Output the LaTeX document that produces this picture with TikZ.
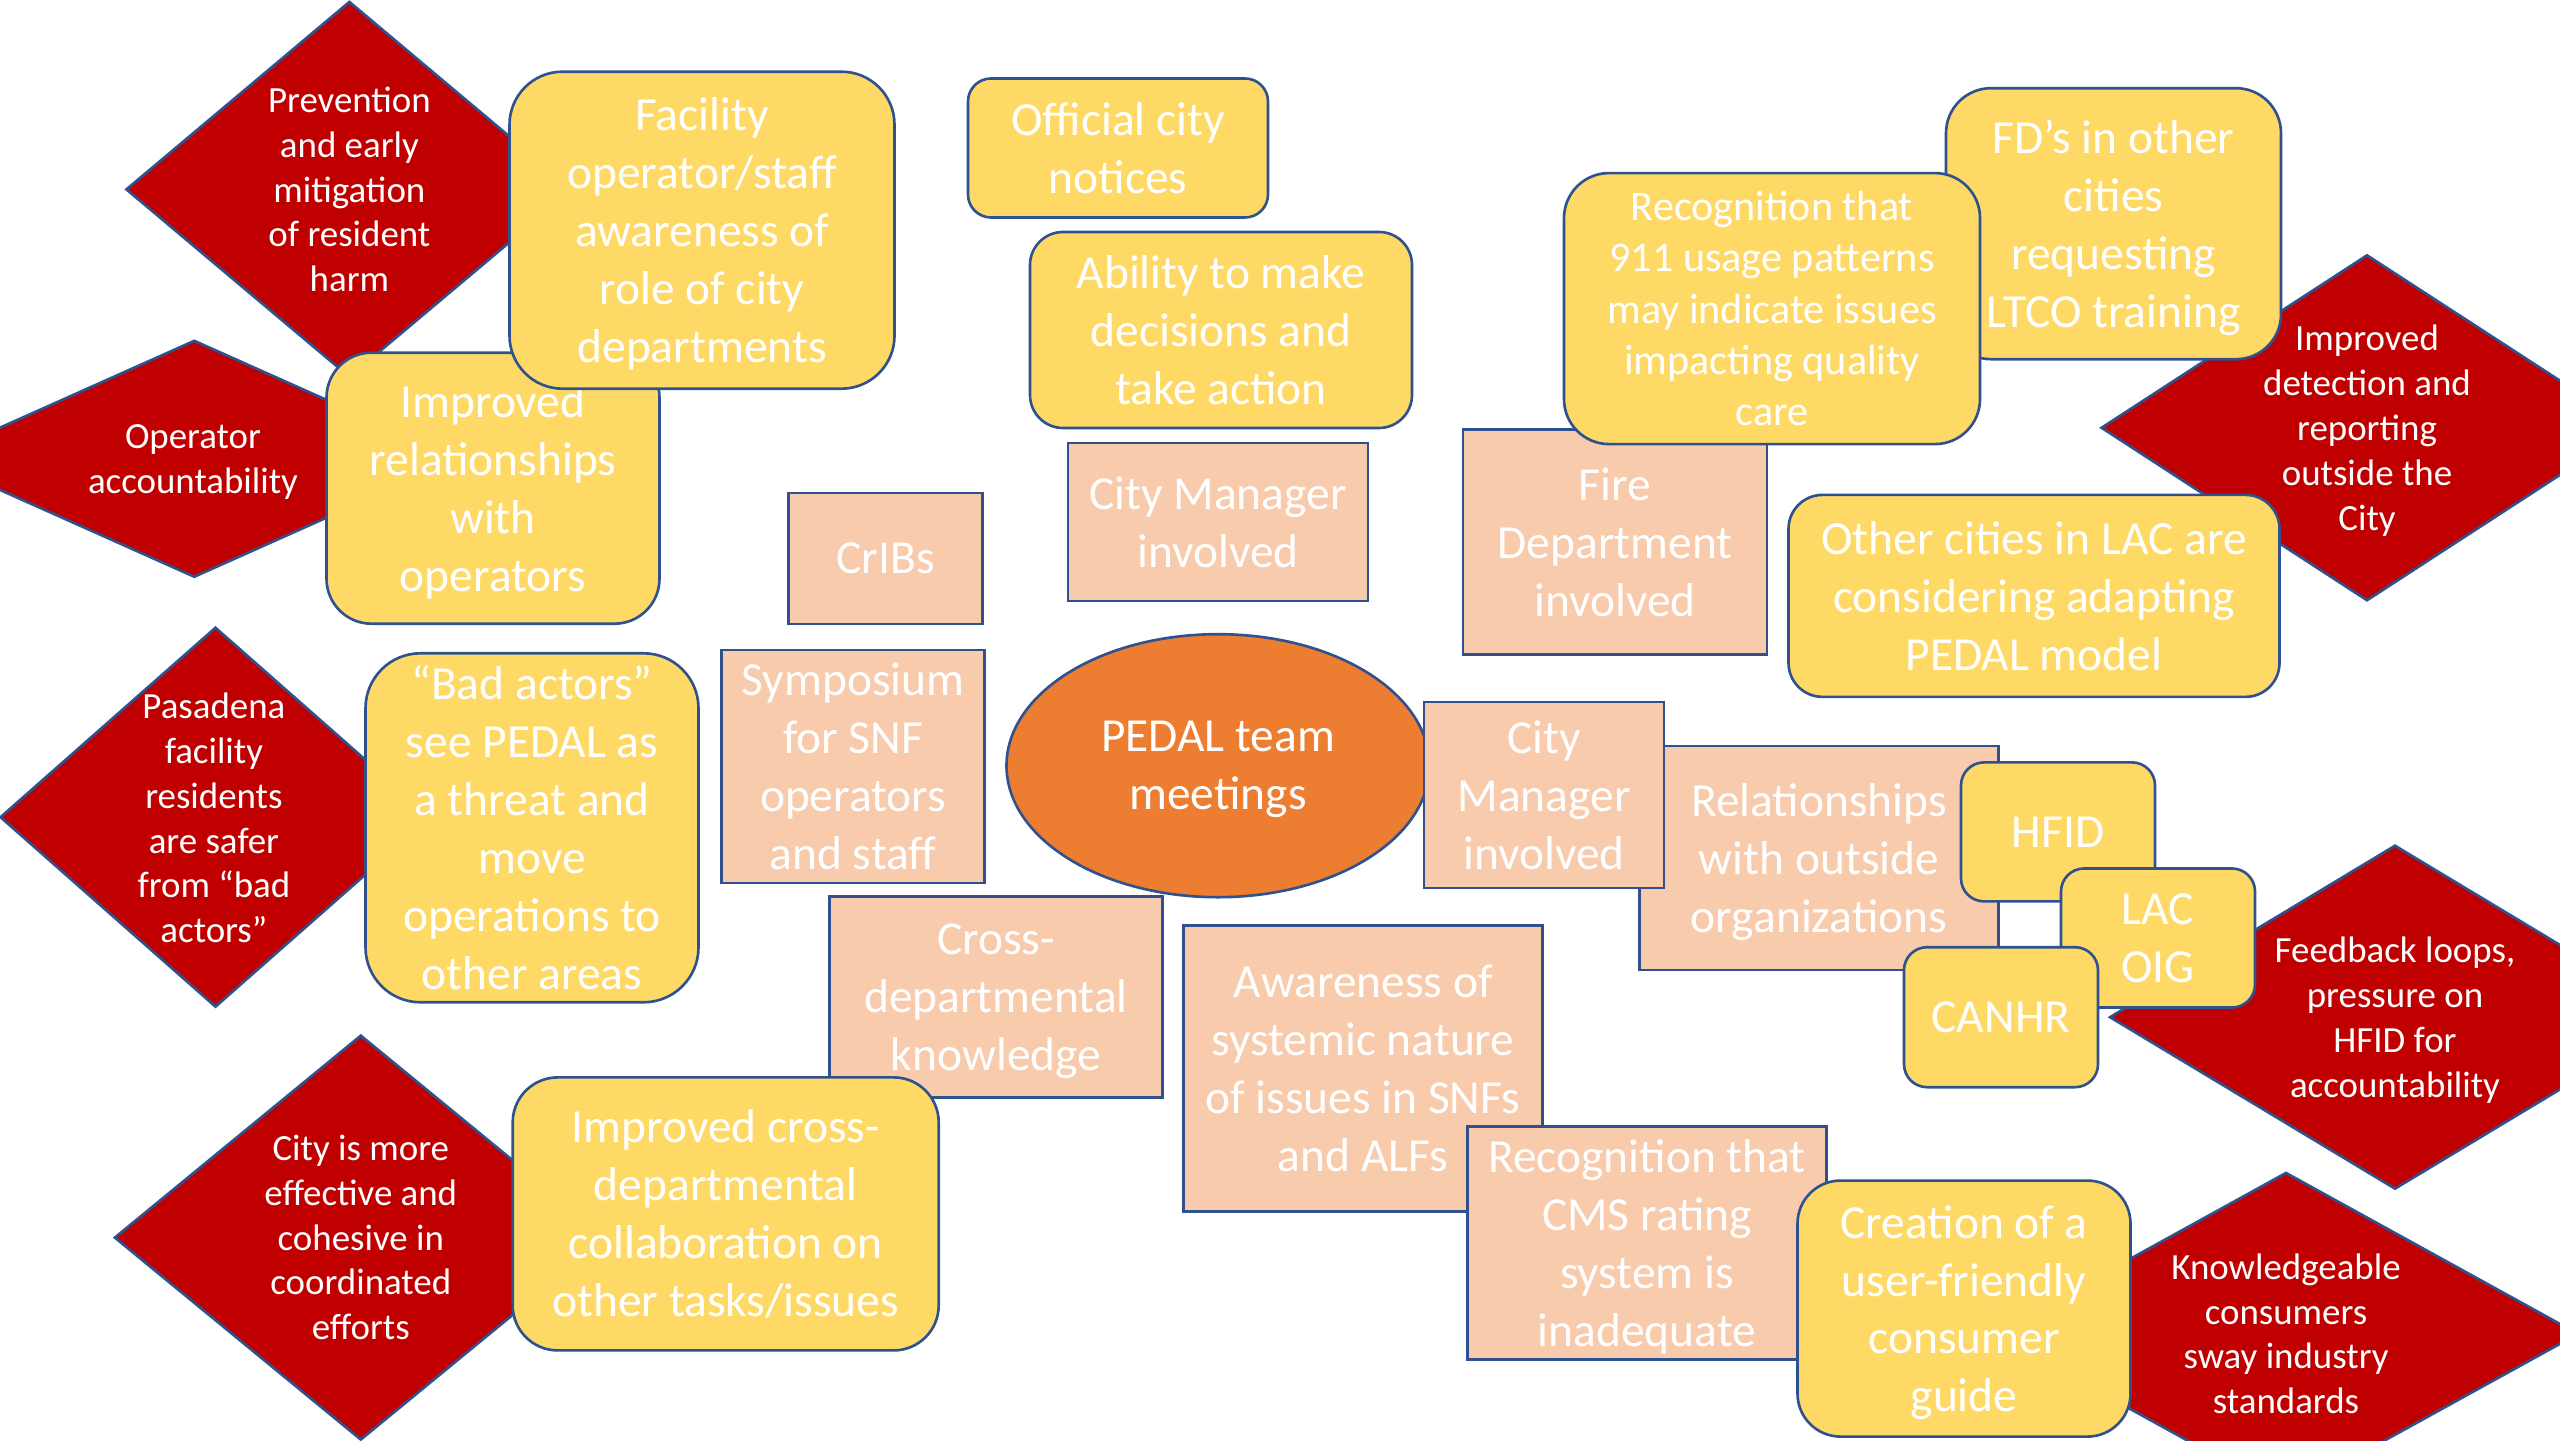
\documentclass[tikz,border=0pt]{standalone}
\usepackage{fontspec}
\setmainfont{Carlito}
\usetikzlibrary{shapes.geometric}
\definecolor{impactred}{HTML}{C00000}
\definecolor{goldfill}{HTML}{FFD966}
\definecolor{salmonfill}{HTML}{F8CBAD}
\definecolor{pedalorange}{HTML}{ED7D31}
\definecolor{bluedge}{HTML}{2F528F}
% last line without its descender, so the text sits centred like the others
\newcommand{\lastline}[1]{\raisebox{0pt}[\height][0pt]{#1}}
\begin{document}
\begin{tikzpicture}[
  boxline/.style={draw=bluedge, line width=0.75pt, inner sep=0pt, text=white, align=center},
  goal/.style={boxline, fill=goldfill, rounded corners=#1, font=\fontsize{13.5}{16.5}\selectfont},
  goal/.default=0.45cm,
  activity/.style={boxline, fill=salmonfill, font=\fontsize{13.5}{16.5}\selectfont},
  impact/.style={boxline, diamond, fill=impactred},
  impactlabel/.style={text=white, align=center, font=\fontsize{10.5}{12.75}\selectfont}
]
\useasboundingbox (0,0) rectangle (25.6,14.4);
\clip (0,0) rectangle (25.6,14.4);

% impacts (diamonds, drawn first so the boxes sit on top)
\node[impact, minimum width=4.47cm, minimum height=3.76cm] (prevent) at (3.494,12.506) {};
\node[impactlabel] (prevent-t) at (prevent) {Prevention\\and early\\mitigation\\of resident\\harm};
\node[impact, minimum width=5.29cm, minimum height=2.37cm] (account) at (1.943,9.812) {};
\node[impactlabel] (account-t) at (1.93,9.81) {Operator\\\lastline{accountability}};
\node[impact, minimum width=4.31cm, minimum height=3.80cm] (safer) at (2.155,6.228) {};
\node[impactlabel] (safer-t) at (2.139,6.22) {Pasadena\\facility\\residents\\are safer\\from “bad\\actors”};
\node[impact, minimum width=4.93cm, minimum height=4.05cm] (cohesive) at (3.608,2.024) {};
\node[impactlabel] (cohesive-t) at (cohesive) {City is more\\effective and\\cohesive in\\coordinated\\efforts};
\node[impact, minimum width=5.32cm, minimum height=3.46cm] (detect) at (23.67,10.122) {};
\node[impactlabel] (detect-t) at (detect) {Improved\\detection and\\reporting\\outside the\\\lastline{City}};
\node[impact, minimum width=5.71cm, minimum height=3.44cm] (feedback) at (23.95,4.228) {};
\node[impactlabel] (feedback-t) at (feedback) {Feedback loops,\\pressure on\\HFID for\\\lastline{accountability}};
\node[impact, minimum width=5.85cm, minimum height=3.23cm] (sway) at (22.86,1.061) {};
\node[impactlabel] (sway-t) at (sway) {Knowledgeable\\consumers\\sway industry\\standards};

% upper left
\node[goal=0.45cm, minimum width=3.33cm, minimum height=2.71cm] (relops) at (4.93,9.518) {Improved\\relationships\\with\\\lastline{operators}};
\node[goal=0.53cm, minimum width=3.85cm, minimum height=3.17cm] (aware) at (7.02,12.098) {Facility\\operator/staff\\awareness of\\role of city\\\lastline{departments}};

% upper middle
\node[goal=0.23cm, minimum width=3.00cm, minimum height=1.39cm] (notices) at (11.18,12.92) {Official city\\notices};
\node[goal=0.33cm, minimum width=3.82cm, minimum height=1.96cm] (decide) at (12.21,11.10) {Ability to make\\decisions and\\take action};
\node[activity, minimum width=3.00cm, minimum height=1.58cm] (cmtop) at (12.18,9.18) {City Manager\\involved};
\node[activity, minimum width=1.94cm, minimum height=1.31cm] (cribs) at (8.857,8.816) {CrIBs};
\node[activity, minimum width=2.63cm, minimum height=2.33cm] (symp) at (8.531,6.734) {Symposium\\for SNF\\operators\\and staff};

% centre
\node[boxline, ellipse, fill=pedalorange, minimum width=4.23cm, minimum height=2.63cm,
  font=\fontsize{13.5}{16.5}\selectfont] (pedal) at (12.18,6.743) {PEDAL team\\\lastline{meetings}};

% outside organizations
\node[activity, minimum width=3.59cm, minimum height=2.24cm] (outside) at (18.19,5.82) {Relationships\\with outside\\\lastline{organizations}};
\node[activity, minimum width=2.40cm, minimum height=1.86cm] (cmright) at (15.44,6.449) {City\\Manager\\involved};
\node[goal=0.23cm, minimum width=1.94cm, minimum height=1.39cm] (hfid) at (20.58,6.081) {HFID};
\node[goal=0.23cm, minimum width=1.94cm, minimum height=1.39cm] (laoig) at (21.58,5.02) {LAC\\OIG};
\node[goal=0.23cm, minimum width=1.94cm, minimum height=1.40cm] (canhr) at (20.01,4.228) {CANHR};

% fire department
\node[activity, minimum width=3.04cm, minimum height=2.25cm] (fire) at (16.15,8.979) {Fire\\Department\\involved};
\node[goal=0.45cm, minimum width=3.35cm, minimum height=2.71cm] (fdtrain) at (21.135,12.163) {FD’s in other\\cities\\requesting\\\lastline{LTCO training}};
\node[goal=0.45cm, minimum width=4.16cm, minimum height=2.71cm, font=\fontsize{12}{14.6}\selectfont] (calls) at (17.72,11.314) {Recognition that\\911 usage patterns\\may indicate issues\\impacting quality\\care};
\node[goal=0.34cm, minimum width=4.91cm, minimum height=2.02cm] (lacities) at (20.34,8.441) {Other cities in LAC are\\considering adapting\\PEDAL model};

% lower right
\node[activity, minimum width=3.59cm, minimum height=2.86cm] (systemic) at (13.63,3.714) {Awareness of\\systemic nature\\of issues in SNFs\\and ALFs};
\node[activity, minimum width=3.59cm, minimum height=2.33cm] (cms) at (16.47,1.967) {Recognition that\\CMS rating\\system is\\\lastline{inadequate}};
\node[goal=0.43cm, minimum width=3.33cm, minimum height=2.56cm] (guide) at (19.64,1.314) {Creation of a\\user-friendly\\consumer\\\lastline{guide}};

% lower left
\node[activity, minimum width=3.33cm, minimum height=2.01cm] (crossknow) at (9.96,4.432) {Cross-\\departmental\\\lastline{knowledge}};
\node[goal=0.45cm, minimum width=4.26cm, minimum height=2.73cm] (crosscollab) at (7.257,2.261) {Improved cross-\\departmental\\collaboration on\\other tasks/issues};
\node[goal=0.55cm, minimum width=3.33cm, minimum height=3.49cm] (badact) at (5.32,6.122) {“Bad actors”\\see PEDAL as\\a threat and\\move\\operations to\\other areas};
\end{tikzpicture}
\end{document}
